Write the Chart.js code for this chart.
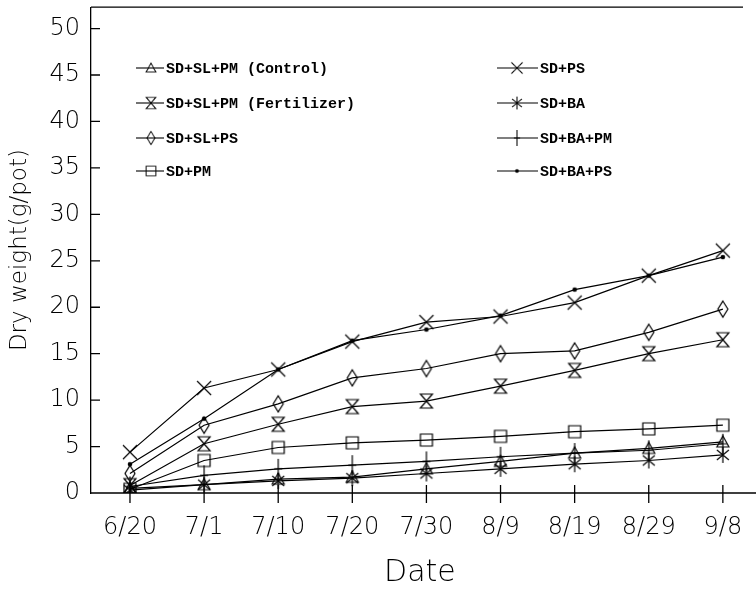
<!DOCTYPE html>
<html>
<head>
<meta charset="utf-8">
<script src="https://cdn.jsdelivr.net/npm/chart.js@4"></script>
<style>
  html, body { margin: 0; padding: 0; background: #fff; }
  #wrap { width: 756px; height: 591px; }
</style>
</head>
<body>
<div id="wrap"><canvas id="chart" width="756" height="591"></canvas></div>
<script>
// values
const dates = ['6/20', '7/1', '7/10', '7/20', '7/30', '8/9', '8/19', '8/29', '9/8'];
const control = [0.5, 0.9, 1.5, 1.7, 2.6, 3.4, 4.3, 4.8, 5.5];
const fertilizer = [0.8, 5.3, 7.4, 9.3, 9.9, 11.5, 13.2, 15.0, 16.5];
const slPs = [2.1, 7.3, 9.6, 12.4, 13.4, 15.0, 15.3, 17.3, 19.8];
const sdPm = [0.4, 3.5, 4.9, 5.4, 5.7, 6.1, 6.6, 6.9, 7.3];
const sdPs = [4.4, 11.3, 13.3, 16.3, 18.4, 19.0, 20.5, 23.4, 26.1];
const sdBa = [0.3, 0.9, 1.3, 1.6, 2.1, 2.6, 3.1, 3.5, 4.1];
const baPm = [0.7, 1.9, 2.6, 3.0, 3.4, 3.9, 4.3, 4.6, 5.3];
const baPs = [3.1, 8.0, 13.3, 16.4, 17.6, 19.1, 21.9, 23.4, 25.4];
const yTicks = [0, 5, 10, 15, 20, 25, 30, 35, 40, 45, 50];

// marker glyphs drawn into small canvases, used as pointStyle
function marker(kind) {
  const c = document.createElement('canvas');
  c.width = 22; c.height = 24;
  const g = c.getContext('2d');
  g.translate(11, 12);
  g.strokeStyle = '#000';
  g.fillStyle = '#000';
  g.lineWidth = 1.2;
  g.beginPath();
  if (kind === 'triangle') {
    g.moveTo(0, -6); g.lineTo(6, 5); g.lineTo(-6, 5); g.closePath();
  } else if (kind === 'hourglass') {
    g.moveTo(-6, -7); g.lineTo(6, -7); g.lineTo(-6, 7); g.lineTo(6, 7); g.closePath();
  } else if (kind === 'diamond') {
    g.moveTo(0, -8); g.lineTo(5, 0); g.lineTo(0, 8); g.lineTo(-5, 0); g.closePath();
  } else if (kind === 'square') {
    g.rect(-6, -6, 12, 12);
  } else if (kind === 'x') {
    g.moveTo(-7, -7); g.lineTo(7, 7); g.moveTo(7, -7); g.lineTo(-7, 7);
  } else if (kind === 'asterisk') {
    g.moveTo(-6, -5); g.lineTo(6, 5); g.moveTo(6, -5); g.lineTo(-6, 5);
    g.moveTo(0, -8); g.lineTo(0, 8);
  } else if (kind === 'plus') {
    g.moveTo(0, -10); g.lineTo(0, 10); g.moveTo(-4, 0); g.lineTo(4, 0);
  } else if (kind === 'dot') {
    g.arc(0, 0, 2.3, 0, Math.PI * 2);
    g.fill();
    return c;
  }
  g.stroke();
  return c;
}

const series = [
  { label: 'SD+SL+PM (Control)', data: control, kind: 'triangle' },
  { label: 'SD+SL+PM (Fertilizer)', data: fertilizer, kind: 'hourglass' },
  { label: 'SD+SL+PS', data: slPs, kind: 'diamond' },
  { label: 'SD+PM', data: sdPm, kind: 'square' },
  { label: 'SD+PS', data: sdPs, kind: 'x' },
  { label: 'SD+BA', data: sdBa, kind: 'asterisk' },
  { label: 'SD+BA+PM', data: baPm, kind: 'plus' },
  { label: 'SD+BA+PS', data: baPs, kind: 'dot' }
];

const datasets = series.map(s => ({
  label: s.label,
  data: s.data.map((v, i) => ({ x: i, y: v })),
  borderColor: '#000',
  borderWidth: 1.2,
  pointStyle: marker(s.kind),
  pointRadius: 6,
  fill: false,
  tension: 0
}));

// frame, inward tick marks and the two-column legend
const framePlugin = {
  id: 'frame',
  afterDatasetsDraw(chart) {
    const { ctx, chartArea: a, scales } = chart;
    ctx.save();
    ctx.strokeStyle = '#000';
    ctx.lineWidth = 1.3;
    ctx.beginPath();
    ctx.moveTo(a.left, a.top); ctx.lineTo(743, a.top);
    ctx.moveTo(a.left, a.bottom); ctx.lineTo(756, a.bottom);
    yTicks.forEach(v => {
      if (v === 0) return;
      const y = scales.y.getPixelForValue(v);
      ctx.moveTo(a.left, y); ctx.lineTo(a.left + 9, y);
    });
    dates.forEach((d, i) => {
      const x = scales.x.getPixelForValue(i);
      ctx.moveTo(x, a.bottom - 8); ctx.lineTo(x, a.bottom + 10);
    });
    ctx.stroke();

    ctx.font = 'bold 15px "Liberation Mono"';
    ctx.fillStyle = '#000';
    ctx.textBaseline = 'middle';
    const rows = [68, 103, 138, 171];
    series.forEach((s, i) => {
      const col = i < 4 ? 0 : 1;
      const y = rows[i % 4];
      const x0 = col === 0 ? 136 : 497;
      const mx = col === 0 ? 151 : 517;
      const x1 = col === 0 ? 164 : 538;
      ctx.lineWidth = 1.1;
      ctx.beginPath();
      ctx.moveTo(x0, y); ctx.lineTo(x1, y);
      ctx.stroke();
      const img = chart.data.datasets[i].pointStyle;
      const w = img.width * 0.8, h = img.height * 0.8;
      ctx.drawImage(img, mx - w / 2, y - h / 2, w, h);
      ctx.fillText(s.label, x1 + 2, y + 1);
    });
    ctx.restore();
  }
};

new Chart(document.getElementById('chart'), {
  type: 'line',
  data: { datasets },
  options: {
    responsive: false,
    animation: false,
    layout: { padding: { top: 5, right: 0, left: 0, bottom: 0 } },
    plugins: { legend: { display: false }, tooltip: { enabled: false } },
    scales: {
      x: {
        type: 'linear',
        min: -0.526,
        max: 8.35,
        afterFit(scale) {
          scale.height = 98;
          scale.paddingLeft = 0; scale.paddingRight = 0;
        },
        afterBuildTicks(scale) { scale.ticks = dates.map((d, i) => ({ value: i })); },
        grid: { display: false, drawTicks: false },
        border: { display: false },
        ticks: {
          padding: 20,
          color: '#000',
          maxRotation: 0,
          autoSkip: false,
          font: { family: 'DejaVu Sans', size: 24, weight: '200' },
          callback: v => dates[v]
        },
        title: {
          display: true,
          text: 'Date',
          color: '#000',
          padding: { top: 0, bottom: 0 },
          font: { family: 'DejaVu Sans', size: 30, weight: '200' }
        }
      },
      y: {
        min: 0,
        max: 52.3,
        afterFit(scale) {
          scale.width = 91;
          scale.paddingTop = 0; scale.paddingBottom = 0;
        },
        afterBuildTicks(scale) { scale.ticks = yTicks.map(v => ({ value: v })); },
        grid: { display: false, drawTicks: false },
        border: { display: true, color: '#000', width: 1.3 },
        ticks: {
          padding: 11,
          color: '#000',
          font: { family: 'DejaVu Sans', size: 24, weight: '200' }
        },
        title: {
          display: true,
          text: 'Dry weight(g/pot)',
          color: '#000',
          padding: { top: 6, bottom: 0 },
          font: { family: 'DejaVu Sans', size: 23, weight: '200' }
        }
      }
    }
  },
  plugins: [framePlugin]
});
</script>
</body>
</html>
